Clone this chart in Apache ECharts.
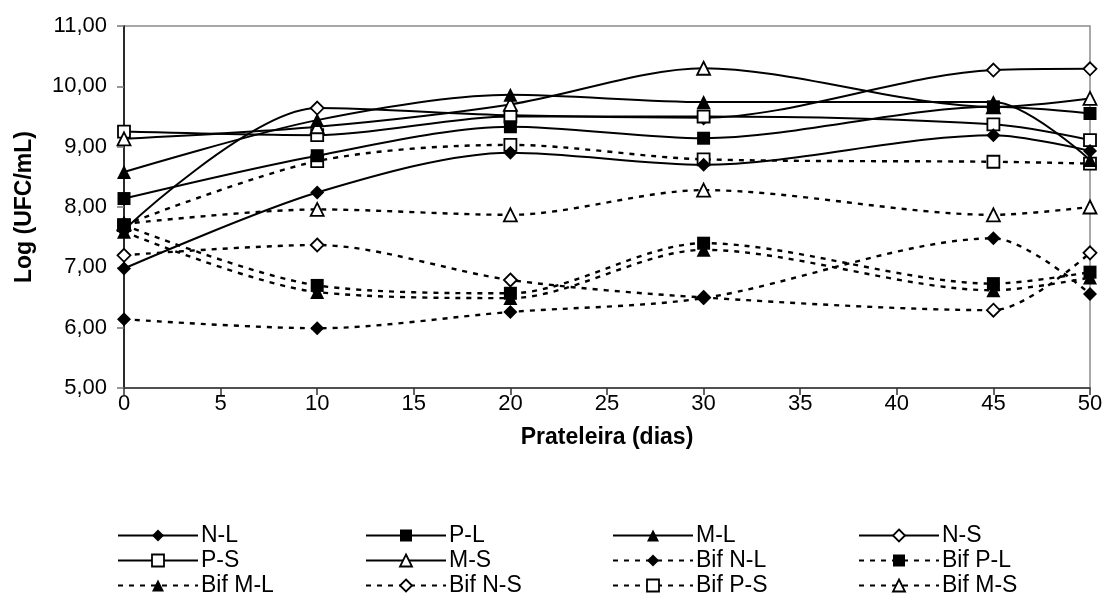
<!DOCTYPE html>
<html>
<head>
<meta charset="utf-8">
<script src="https://cdn.jsdelivr.net/npm/echarts@6/dist/echarts.min.js"></script>
<style>
  html, body { margin: 0; padding: 0; background: #fff; }
  #chart { width: 1106px; height: 595px; }
</style>
</head>
<body>
<div id="chart"></div>
<script>
// Storage days on the shelf
const days = [0, 10, 20, 30, 45, 50];

// Log (UFC/mL) per sample
const nL    = [6.98, 8.24, 8.90, 8.70, 9.19, 8.93];
const pL    = [8.14, 8.85, 9.33, 9.14, 9.66, 9.55];
const mL    = [8.58, 9.44, 9.86, 9.74, 9.74, 8.78];
const nS    = [7.62, 9.64, 9.52, 9.48, 10.27, 10.29];
const pS    = [9.25, 9.19, 9.50, 9.50, 9.37, 9.11];
const mS    = [9.13, 9.33, 9.70, 10.30, 9.66, 9.80];
const bifNL = [6.14, 5.99, 6.26, 6.49, 7.48, 6.56];
const bifPL = [7.70, 6.70, 6.57, 7.40, 6.73, 6.92];
const bifML = [7.59, 6.59, 6.49, 7.29, 6.62, 6.83];
const bifNS = [7.20, 7.37, 6.79, 6.50, 6.29, 7.24];
const bifPS = [7.70, 8.76, 9.03, 8.79, 8.75, 8.72];
const bifMS = [7.72, 7.96, 7.87, 8.28, 7.87, 8.00];

const seriesNames = ['N-L', 'P-L', 'M-L', 'N-S', 'P-S', 'M-S',
                     'Bif N-L', 'Bif P-L', 'Bif M-L', 'Bif N-S', 'Bif P-S', 'Bif M-S'];
const seriesValues = [nL, pL, mL, nS, pS, mS, bifNL, bifPL, bifML, bifNS, bifPS, bifMS];

// axis ticks
const xTicks = { min: 0, max: 50, step: 5 };
const yTicks = { min: 5, max: 11, step: 1 };

const FONT = "'Liberation Sans', Arial, sans-serif";

// marker shape and fill per series
const markerOf = {
  'N-L': ['diamond', true], 'P-L': ['rect', true], 'M-L': ['triangle', true],
  'N-S': ['diamond', false], 'P-S': ['rect', false], 'M-S': ['triangle', false],
  'Bif N-L': ['diamond', true], 'Bif P-L': ['rect', true], 'Bif M-L': ['triangle', true],
  'Bif N-S': ['diamond', false], 'Bif P-S': ['rect', false], 'Bif M-S': ['triangle', false]
};

function markerStyle(name) {
  const filled = markerOf[name][1];
  return filled
    ? { color: '#000', borderWidth: 0 }
    : { color: '#fff', borderColor: '#000', borderWidth: 1.8 };
}

const series = seriesNames.map((name, i) => {
  const dashed = name.indexOf('Bif') === 0;
  const [shape, filled] = markerOf[name];
  return {
    name: name,
    type: 'line',
    smooth: 0.3,
    data: days.map((d, k) => [d, seriesValues[i][k]]),
    symbol: shape,
    symbolSize: filled ? (shape === 'rect' ? 13 : 14) : (shape === 'rect' ? 12 : 13),
    lineStyle: dashed
      ? { color: '#000', width: 2.4, type: [5, 6] }
      : { color: '#000', width: 2 },
    itemStyle: markerStyle(name),
    emphasis: { disabled: true },
    // solid markers sit above the hollow ones
    z: filled ? 4 : 3
  };
});

// four legend columns, three rows, filled row by row
const colLeft = [117, 365, 612, 858];
const legends = colLeft.map((left, c) => ({
  orient: 'vertical',
  left: left,
  top: 524,
  height: 90,
  padding: 0,
  itemGap: 2,
  itemWidth: 80,
  itemHeight: 15,
  selectedMode: false,
  textStyle: { fontFamily: FONT, fontSize: 23, color: '#000', padding: [0, 0, 0, -2] },
  data: [0, 4, 8].map(r => {
    const name = seriesNames[c + r];
    return { name: name, itemStyle: markerStyle(name) };
  })
}));

const chart = echarts.init(document.getElementById('chart'), null, { renderer: 'canvas' });
chart.setOption({
  animation: false,
  backgroundColor: '#fff',
  grid: {
    left: 124, right: 16, top: 26, bottom: 207,
    outerBoundsMode: 'none',
    containLabel: false,
    show: true, borderColor: '#8c8c8c', borderWidth: 1.5, backgroundColor: 'transparent'
  },
  legend: legends,
  xAxis: {
    type: 'value',
    min: xTicks.min, max: xTicks.max, interval: xTicks.step,
    name: 'Prateleira (dias)',
    nameLocation: 'middle',
    nameGap: 38,
    nameTextStyle: { fontFamily: FONT, fontSize: 23, fontWeight: 'bold', color: '#000' },
    axisLine: { show: true, lineStyle: { color: '#333', width: 1.5 } },
    axisTick: { show: true, inside: false, length: 7, lineStyle: { color: '#333', width: 1.5 } },
    axisLabel: { fontFamily: FONT, fontSize: 22, color: '#000', margin: 5 },
    splitLine: { show: false }
  },
  yAxis: {
    type: 'value',
    min: yTicks.min, max: yTicks.max, interval: yTicks.step,
    name: 'Log (UFC/mL)',
    nameLocation: 'middle',
    nameGap: 88,
    nameRotate: 90,
    nameTextStyle: { fontFamily: FONT, fontSize: 23, fontWeight: 'bold', color: '#000' },
    axisLine: { show: true, lineStyle: { color: '#000', width: 1.5 } },
    axisTick: { show: true, inside: false, length: 7, lineStyle: { color: '#777', width: 1.5 } },
    axisLabel: {
      fontFamily: FONT, fontSize: 22, color: '#000', margin: 17,
      formatter: v => v.toFixed(2).replace('.', ',')
    },
    splitLine: { show: false }
  },
  series: series
});
</script>
</body>
</html>
